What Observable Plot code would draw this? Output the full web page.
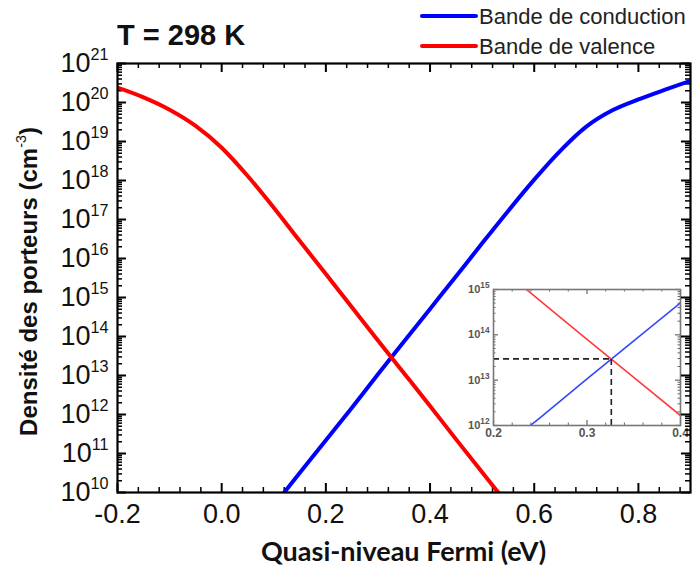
<!DOCTYPE html>
<html><head><meta charset="utf-8">
<script src="https://cdn.jsdelivr.net/npm/d3@7"></script>
<script src="https://cdn.jsdelivr.net/npm/@observablehq/plot@0.6"></script>
<style>
html,body{margin:0;padding:0;background:#fff;}
#wrap{position:relative;width:693px;height:572px;overflow:hidden;background:#fff;}
#wrap svg{position:absolute;}
</style></head><body><div id="wrap"></div>
<script>
// ---- data ----
const valenceE = [-0.2,-0.15,-0.1,-0.05,0,0.05,0.1,0.15,0.2,0.25,0.3,0.35,0.4,0.45,0.5,0.55];
const valenceN = [2.4e20,1.35e20,6.5e19,2.5e19,6.9e18,1.3e18,2.0e17,2.8e16,4.0e15,5.6e14,7.9e13,1.15e13,1.66e12,2.3e11,3.3e10,4.8e9];
const conductionE = [0.1,0.15,0.2,0.25,0.3,0.35,0.4,0.45,0.5,0.55,0.6,0.65,0.7,0.75,0.8,0.85,0.9];
const conductionN = [4.6e9,3.2e10,2.2e11,1.5e12,1.07e13,7.4e13,5.1e14,3.5e15,2.45e16,1.66e17,1.05e18,5.75e18,2.4e19,6.3e19,1.2e20,2.1e20,3.6e20];
const seriesNames = ["Bande de conduction","Bande de valence"];
const seriesColors = ["#0000ff","#ff0000"];
const insetColors = ["#3347ff","#ff3b3b"];
const crossE = [0.326];
const crossN = [2.95e13];

const xTicks = [-0.2,0,0.2,0.4,0.6,0.8];
const xTickLabels = ["-0.2","0.0","0.2","0.4","0.6","0.8"];
const xMinor = [-0.16,-0.12,-0.08,-0.04,0.04,0.08,0.12,0.16,0.24,0.28,0.32,0.36,0.44,0.48,0.52,0.56,0.64,0.68,0.72,0.76,0.84,0.88];
const yTicks = [1e10,1e11,1e12,1e13,1e14,1e15,1e16,1e17,1e18,1e19,1e20,1e21];
const yTickLabels = ["10^10","10^11","10^12","10^13","10^14","10^15","10^16","10^17","10^18","10^19","10^20","10^21"];
const minorMult = [2,3,4,5,6,7,8,9];

const insetXTicks = [0.2,0.3,0.4];
const insetXLabels = ["0.2","0.3","0.4"];
const insetXMinor = [0.22,0.24,0.26,0.28,0.32,0.34,0.36,0.38];
const insetYTicks = [1e12,1e13,1e14,1e15];
const insetYLabels = ["10^12","10^13","10^14","10^15"];

const title = "T = 298 K";
const xTitle = "Quasi-niveau Fermi (eV)";
const yTitle = "Densité des porteurs (cm";

// ---- tables ----
const valence = valenceE.map((e,i)=>({e, n: valenceN[i]}));
const conduction = conductionE.map((e,i)=>({e, n: conductionN[i]}));
const yMinor = yTicks.slice(0,-1).flatMap(d => minorMult.map(k => k*d));
const insetYMinor = insetYTicks.slice(0,-1).flatMap(d => minorMult.map(k => k*d));

const W = 693, H = 572, mL = 117, mR = 3, mT = 63, mB = 80;
const fw = W - mL - mR, fh = H - mT - mB;
const FONT = "'Liberation Sans', Arial, sans-serif";

function ticks4(xs, ys, len, fwid, fhei, stroke, sw){
  return [
    Plot.tickX(xs, {x: d=>d, insetTop: fhei - len, stroke, strokeWidth: sw}),
    Plot.tickX(xs, {x: d=>d, insetBottom: fhei - len, stroke, strokeWidth: sw}),
    Plot.tickY(ys, {y: d=>d, insetRight: fwid - len, stroke, strokeWidth: sw}),
    Plot.tickY(ys, {y: d=>d, insetLeft: fwid - len, stroke, strokeWidth: sw})
  ];
}

const main = Plot.plot({
  width: W, height: H, marginLeft: mL, marginRight: mR, marginTop: mT, marginBottom: mB,
  style: {fontFamily: FONT, background: "transparent", overflow: "visible"},
  x: {domain: [-0.2, 0.9]},
  y: {type: "log", domain: [1e10, 1e21]},
  marks: [
    ...ticks4(xMinor, yMinor, 5, fw, fh, "black", 1.5),
    ...ticks4(xTicks, yTicks, 9, fw, fh, "black", 2),
    Plot.line(conduction, {x: "e", y: "n", stroke: seriesColors[0], strokeWidth: 4, clip: true, curve: "monotone-x"}),
    Plot.line(valence, {x: "e", y: "n", stroke: seriesColors[1], strokeWidth: 4, clip: true, curve: "monotone-x"}),
    Plot.frame({stroke: "black", strokeWidth: 2.2}),
    Plot.axisX(xTicks, {tickSize: 0, tickPadding: 11, fontSize: 27, fill: "#111",
      tickFormat: d => xTickLabels[xTicks.indexOf(d)], label: null}),
    Plot.axisY(yTicks, {tickSize: 0, tickPadding: 9, fontSize: 27, fill: "#111",
      tickFormat: d => yTickLabels[yTicks.indexOf(d)], label: null})
  ]
});
main.style.left = "0px"; main.style.top = "0px";
document.getElementById("wrap").appendChild(main);

function supify(svg, sel, raise, scale){
  d3.select(svg).selectAll(sel).each(function(){
    const t = d3.select(this); const s = t.text();
    if (!s.includes("^")) return;
    const [b, e] = s.split("^");
    t.text(b);
    t.append("tspan").attr("dy", raise).attr("font-size", scale).text(e);
  });
}
supify(main, 'g[aria-label="y-axis tick label"] text', "-0.75em", "0.6em");

const sv = d3.select(main);
// title
sv.append("text").attr("x", 117).attr("y", 45).attr("text-anchor", "start").attr("font-family", FONT)
  .attr("font-weight", "bold").attr("font-size", 29).attr("fill", "#111").text(title);
// legend
seriesNames.forEach((name, i) => {
  const y = 16 + i*30;
  sv.append("line").attr("x1", 422).attr("x2", 476).attr("y1", y).attr("y2", y)
    .attr("stroke", seriesColors[i]).attr("stroke-width", 4).attr("stroke-linecap", "round");
  sv.append("text").attr("x", 479).attr("y", y + 8).attr("text-anchor", "start").attr("font-family", FONT)
    .attr("font-size", 22).attr("fill", "#222").text(name);
});
// x title
sv.append("text").attr("x", mL + fw/2).attr("y", 561).attr("text-anchor", "middle")
  .attr("font-family", "Lato, 'Open Sans', sans-serif").attr("font-weight", "bold")
  .attr("font-size", 27).attr("fill", "#111").text(xTitle);
// y title
const yt = sv.append("text").attr("transform", `translate(37,${mT + fh/2 + 4}) rotate(-90)`)
  .attr("text-anchor", "middle").attr("font-family", FONT).attr("font-weight", "bold")
  .attr("font-size", 24).attr("fill", "#111");
yt.append("tspan").text(yTitle);
yt.append("tspan").attr("dy", "-0.75em").attr("font-size", "0.6em").attr("font-weight", "normal").text("-3");
yt.append("tspan").attr("dy", "0.45em").text(")");

// ---- inset ----
const iL = 38, iT = 10, iR = 12, iB = 22, iw = 187, ih = 136;
const inset = Plot.plot({
  width: iw + iL + iR, height: ih + iT + iB, marginLeft: iL, marginTop: iT, marginRight: iR, marginBottom: iB,
  style: {fontFamily: FONT, background: "transparent", overflow: "visible"},
  x: {domain: [0.2, 0.4]},
  y: {type: "log", domain: [1e12, 1e15]},
  marks: [
    ...ticks4(insetXMinor, insetYMinor, 2.5, iw, ih, "#666", 1),
    ...ticks4(insetXTicks, insetYTicks, 5, iw, ih, "#666", 1.2),
    Plot.line(conduction, {x: "e", y: "n", stroke: insetColors[0], strokeWidth: 1.6, clip: true}),
    Plot.line(valence, {x: "e", y: "n", stroke: insetColors[1], strokeWidth: 1.6, clip: true}),
    Plot.ruleY(crossN, {y: d=>d, x1: 0.2, x2: crossE[0], stroke: "#222", strokeWidth: 1.6, strokeDasharray: "6,4"}),
    Plot.ruleX(crossE, {x: d=>d, y1: 1e12, y2: crossN[0], stroke: "#222", strokeWidth: 1.6, strokeDasharray: "6,4"}),
    Plot.frame({stroke: "#777", strokeWidth: 1.6}),
    Plot.axisX(insetXTicks, {tickSize: 0, tickPadding: 3, fontSize: 12, fill: "#555", fontWeight: "bold",
      tickFormat: d => insetXLabels[insetXTicks.indexOf(d)], label: null}),
    Plot.axisY(insetYTicks, {tickSize: 0, tickPadding: 4, fontSize: 11, fill: "#555", fontWeight: "bold",
      tickFormat: d => insetYLabels[insetYTicks.indexOf(d)], label: null})
  ]
});
inset.style.left = (493 - iL) + "px"; inset.style.top = (289 - iT) + "px";
document.getElementById("wrap").appendChild(inset);
supify(inset, 'g[aria-label="y-axis tick label"] text', "-0.6em", "0.75em");
main.style.zIndex = 2; inset.style.zIndex = 1;
</script></body></html>
